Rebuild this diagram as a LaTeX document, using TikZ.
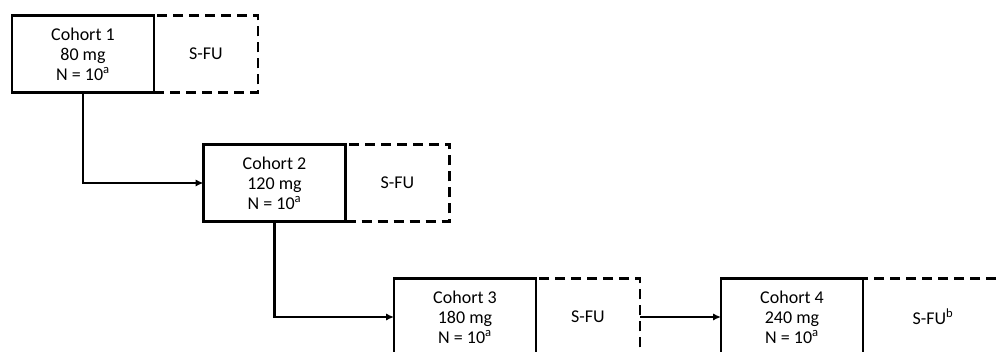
\documentclass[tikz,border=0pt]{standalone}
\usepackage{fontspec}
\setmainfont{Carlito}
\usetikzlibrary{arrows.meta,positioning}
\tikzset{
  cohort/.style={rectangle, draw=black, line width=1.9pt, fill=white, align=center,
                 minimum width=106.5pt, minimum height=57.75pt, inner sep=0pt, outer sep=0pt,
                 font=\fontsize{13.5}{15}\selectfont},
  sfu/.style={rectangle, draw=black, line width=1.9pt, dash pattern=on 7.5pt off 4.5pt,
              minimum width=78pt, minimum height=57.75pt, inner sep=0pt, outer sep=0pt,
              font=\fontsize{13.5}{15}\selectfont},
  ar/.style={-{Latex[length=6pt,width=5.5pt]}, line width=1.6pt}
}
\begin{document}
\begin{tikzpicture}[x=0.75pt, y=-0.75pt]
\useasboundingbox (0,0) rectangle (997,352);
\clip (0,0) rectangle (997,352);
% ---- cohorts ----
\node[cohort] (c1) at (83,54) {Cohort 1\\80 mg\\N = 10\textsuperscript{a}};
\node[sfu, right=0pt of c1] (s1) {S-FU};
\node[cohort] (c2) at (274.5,183) {Cohort 2\\120 mg\\N = 10\textsuperscript{a}};
\node[sfu, right=0pt of c2] (s2) {S-FU};
\node[cohort] (c3) at (465,317) {Cohort 3\\180 mg\\N = 10\textsuperscript{a}};
\node[sfu, right=0pt of c3] (s3) {S-FU};
\node[cohort] (c4) at (792,317) {Cohort 4\\240 mg\\N = 10\textsuperscript{a}};
\node[sfu, minimum width=105pt, right=0pt of c4] (s4) {S-FU\textsuperscript{b}};
% ---- escalation arrows ----
\draw[ar] (c1.south) |- (c2.west);
\draw[ar] (c2.south) |- (c3.west);
\draw[ar] (s3.east) -- (c4.west);
\end{tikzpicture}
\end{document}
